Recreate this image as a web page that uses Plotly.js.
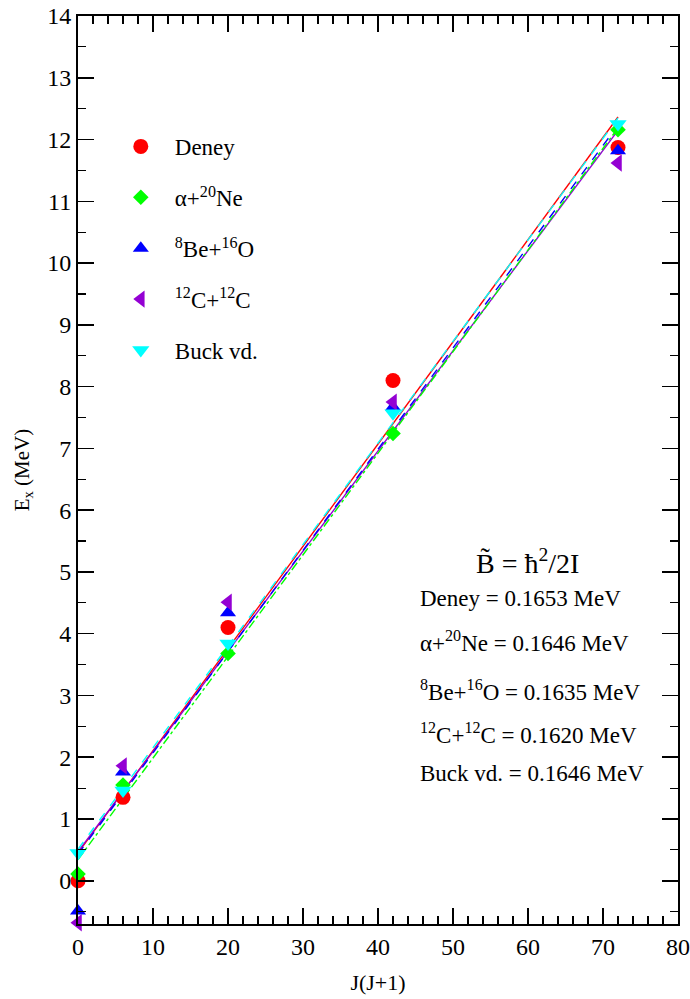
<!DOCTYPE html>
<html>
<head>
<meta charset="utf-8">
<script src="https://cdn.plot.ly/plotly-3.0.1.min.js"></script>
<style>html,body{margin:0;padding:0;background:#fff;}#chart{width:690px;height:999px;}</style>
</head>
<body>
<div id="chart"></div>
<script>
// J(J+1) values
const jj = [0, 6, 20, 42, 72];

// Excitation energies (MeV)
const deney   = [0.00, 1.35, 4.10, 8.10, 11.87];
const alphaNe = [0.11, 1.55, 3.68, 7.24, 12.16];
const beO     = [-0.49, 1.76, 4.34, 7.67, 11.82];
const cc      = [-0.68, 1.86, 4.51, 7.75, 11.62];
const buck    = [0.45, 1.46, 3.84, 7.57, 12.25];

const seriesNames = ["Deney", "α+<sup>20</sup>Ne", "<sup>8</sup>Be+<sup>16</sup>O", "<sup>12</sup>C+<sup>12</sup>C", "Buck vd."];
const seriesData = [deney, alphaNe, beO, cc, buck];
const colors = ["#ff0000", "#00ff00", "#0000ff", "#9400d3", "#00ffff"];
const symbols = ["circle", "diamond", "triangle-up", "triangle-left", "triangle-down"];
const markerSizes = [15, 12, 14, 15, 15];
const lineDash = ["solid", "dashdot", "dash", "solid", "dash"];

// B-tilde values quoted in the figure
const bValues = ["0.1653", "0.1646", "0.1635", "0.1620", "0.1646"];

function fit(x, y) {
  const n = x.length;
  const mx = x.reduce((a, b) => a + b, 0) / n;
  const my = y.reduce((a, b) => a + b, 0) / n;
  let sxy = 0, sxx = 0;
  for (let i = 0; i < n; i++) { sxy += (x[i] - mx) * (y[i] - my); sxx += (x[i] - mx) * (x[i] - mx); }
  const b = sxy / sxx;
  return {a: my - b * mx, b: b};
}

const traces = [];
const lineOrder = [0, 3, 4, 2, 1];
lineOrder.forEach(i => {
  const f = fit(jj, seriesData[i]);
  const xs = [Math.min(...jj), Math.max(...jj)];
  traces.push({
    x: xs, y: xs.map(v => f.a + f.b * v), mode: "lines", type: "scatter",
    line: {color: colors[i], width: 1.4, dash: lineDash[i]},
    showlegend: false, hoverinfo: "skip"
  });
});
seriesData.forEach((d, i) => {
  traces.push({
    x: jj, y: d, mode: "markers", type: "scatter", name: seriesNames[i],
    legendgroup: "g" + i, cliponaxis: false,
    marker: {color: colors[i], symbol: symbols[i], size: markerSizes[i], line: {width: 0}}
  });
});

const FAM = "'Liberation Serif', 'Times New Roman', Times, serif";
function f(size) { return {family: FAM, color: "#000", size: size}; }

const annY = [4.57, 3.87, 3.08, 2.38, 1.73];
const annotations = [{
  x: 59.9, y: 5.17, xref: "x", yref: "y", xanchor: "center", yanchor: "middle",
  text: "B\u0303 = ħ<sup>2</sup>/2I", showarrow: false, font: f(28)
}];
seriesNames.forEach((n, i) => {
  annotations.push({
    x: 45.3, y: annY[i], xref: "x", yref: "y", xanchor: "left", yanchor: "middle",
    text: n + " = " + bValues[i] + " MeV", showarrow: false, font: f(23)
  });
});

const layout = {
  width: 690, height: 999,
  margin: {l: 78, r: 12, t: 16, b: 75},
  paper_bgcolor: "#fff", plot_bgcolor: "#fff",
  font: f(22),
  showlegend: true,
  legend: {
    x: 0.048, y: 0.880, xanchor: "left", yanchor: "top",
    bgcolor: "rgba(0,0,0,0)", borderwidth: 0,
    itemwidth: 58, tracegroupgap: 18,
    font: f(23)
  },
  xaxis: {
    range: [0, 80], dtick: 10, tick0: 0,
    showgrid: false, zeroline: false,
    showline: true, linecolor: "#000", linewidth: 2, mirror: "allticks",
    ticks: "inside", ticklen: 16, tickwidth: 1.5, tickcolor: "#000",
    minor: {dtick: 2, ticks: "inside", ticklen: 8, tickwidth: 1.2, tickcolor: "#000", showgrid: false},
    tickfont: f(24),
    title: {text: "J(J+1)", font: f(22), standoff: 16}
  },
  yaxis: {
    range: [-0.7, 14], dtick: 1, tick0: 0,
    showgrid: false, zeroline: false,
    showline: true, linecolor: "#000", linewidth: 2, mirror: "allticks",
    ticks: "inside", ticklen: 16, tickwidth: 1.5, tickcolor: "#000",
    minor: {dtick: 0.5, ticks: "inside", ticklen: 8, tickwidth: 1.2, tickcolor: "#000", showgrid: false},
    tickfont: f(24),
    title: {text: "E<sub>x</sub> (MeV)", font: f(21), standoff: 12}
  },
  annotations: annotations
};

Plotly.newPlot("chart", traces, layout, {displayModeBar: false, staticPlot: true});
</script>
</body>
</html>
